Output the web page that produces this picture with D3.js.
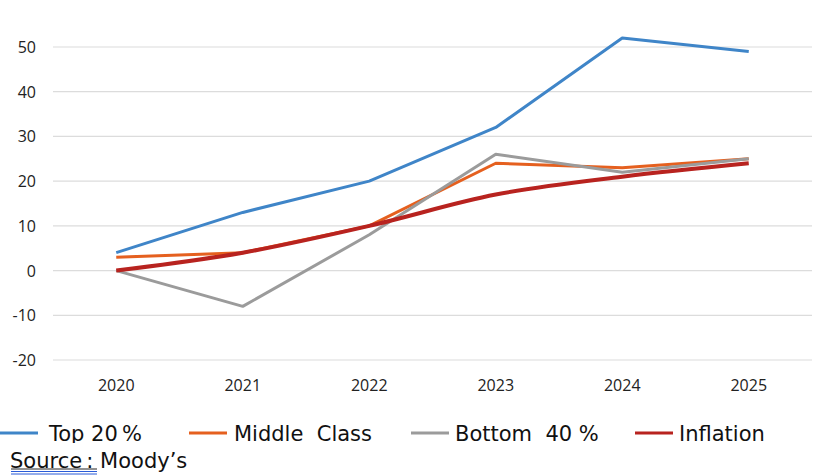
<!DOCTYPE html>
<html>
<head>
<meta charset="utf-8">
<script src="https://cdn.jsdelivr.net/npm/d3@7"></script>
<style>
  body { margin: 0; background: #fff; }
  svg { display: block; }
</style>
</head>
<body>
<svg id="chart"></svg>
<script>
const years = ["2020", "2021", "2022", "2023", "2024", "2025"];
const top20 = [4, 13, 20, 32, 52, 49];
const middleClass = [3, 4, 10, 24, 23, 25];
const bottom40 = [0, -8, 8, 26, 22, 25];
const inflation = [0, 4, 10, 17, 21, 24];
const yTicks = [-20, -10, 0, 10, 20, 30, 40, 50];

const series = [
  { name: "Top 20\u202F%", values: top20, color: "#3f85c8", width: 3, legendX: 0, textX: 49 },
  { name: "Middle  Class", values: middleClass, color: "#e5601f", width: 3, legendX: 189, textX: 234 },
  { name: "Bottom  40 %", values: bottom40, color: "#9b9b9b", width: 3, legendX: 411, textX: 455 },
  { name: "Inflation", values: inflation, color: "#b8231f", width: 4, legendX: 635, textX: 679, smooth: true }
];

const width = 832, height = 476;
const svg = d3.select("#chart").attr("width", width).attr("height", height);

const x = d3.scalePoint().domain(years).range([53, 812]).padding(0.5);
const y = d3.scaleLinear().domain([-20, 50]).range([360, 47]);

// gridlines
svg.append("g")
  .selectAll("line")
  .data(yTicks)
  .join("line")
  .attr("x1", 53).attr("x2", 812)
  .attr("y1", d => y(d)).attr("y2", d => y(d))
  .attr("stroke", "#dcdcdc")
  .attr("stroke-width", 1.2);

// y labels
svg.append("g")
  .attr("font-family", "'Open Sans', Lato, sans-serif")
  .attr("font-size", 16)
  .attr("fill", "#222")
  .attr("text-anchor", "end")
  .selectAll("text")
  .data(yTicks)
  .join("text")
  .attr("x", 36)
  .attr("y", d => y(d) + 6)
  .text(d => d);

// x labels
svg.append("g")
  .attr("font-family", "'Open Sans', Lato, sans-serif")
  .attr("font-size", 16)
  .attr("fill", "#222")
  .attr("text-anchor", "middle")
  .selectAll("text")
  .data(years)
  .join("text")
  .attr("x", d => x(d))
  .attr("y", 391)
  .text(d => d);

// lines
series.forEach(s => {
  const line = d3.line()
    .x((d, i) => x(years[i]))
    .y(d => y(d))
    .curve(s.smooth ? d3.curveMonotoneX : d3.curveLinear);
  svg.append("path")
    .datum(s.values)
    .attr("fill", "none")
    .attr("stroke", s.color)
    .attr("stroke-width", s.width)
    .attr("stroke-linejoin", "round")
    .attr("d", line);
});

// legend (bottom cut off like the reference)
svg.append("clipPath").attr("id", "legclip")
  .append("rect").attr("x", 0).attr("y", 410).attr("width", width).attr("height", 33);

const legend = svg.append("g").attr("clip-path", "url(#legclip)");
series.forEach(s => {
  legend.append("line")
    .attr("x1", s.legendX).attr("x2", s.legendX + 38)
    .attr("y1", 433).attr("y2", 433)
    .attr("stroke", s.color)
    .attr("stroke-width", 3);
  legend.append("text")
    .attr("x", s.textX)
    .attr("y", 441)
    .attr("font-family", "'DejaVu Sans', Verdana, sans-serif")
    .attr("font-size", 21)
    .attr("fill", "#111")
    .style("white-space", "pre")
    .text(s.name);
});

// source
svg.append("text")
  .attr("x", 10)
  .attr("y", 468)
  .attr("font-family", "'DejaVu Sans', Verdana, sans-serif")
  .attr("font-size", 21)
  .attr("fill", "#111")
  .style("white-space", "pre")
  .text("Source\u2009: Moody\u2019s");

svg.append("line").attr("x1", 11).attr("x2", 97).attr("y1", 469).attr("y2", 469)
  .attr("stroke", "#222").attr("stroke-width", 1);
svg.append("line").attr("x1", 11).attr("x2", 97).attr("y1", 471.5).attr("y2", 471.5)
  .attr("stroke", "#2a5bd7").attr("stroke-width", 1.2);
svg.append("line").attr("x1", 11).attr("x2", 97).attr("y1", 474).attr("y2", 474)
  .attr("stroke", "#2a5bd7").attr("stroke-width", 1.2);
</script>
</body>
</html>
